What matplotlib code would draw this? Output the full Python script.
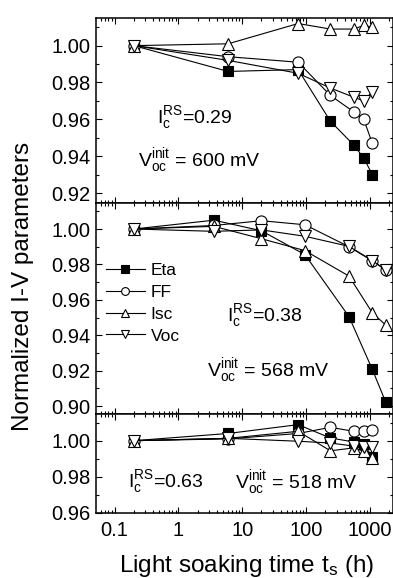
import matplotlib
matplotlib.use('Agg')
import matplotlib.pyplot as plt
from matplotlib.ticker import MultipleLocator, LogLocator, NullFormatter, FixedLocator, FixedFormatter

plt.rcParams['font.family'] = ['Liberation Sans', 'DejaVu Sans']
plt.rcParams['mathtext.fontset'] = 'custom'
plt.rcParams['mathtext.rm'] = 'Liberation Sans'
plt.rcParams['mathtext.it'] = 'Liberation Sans'

# light soaking times (h)
t_a = [0.2, 6, 75, 240, 560, 800, 1090]        # top and bottom panels
t_b = [0.2, 3.6, 20, 96, 470, 1090, 1760]      # middle panel

# top panel, Voc init = 600 mV
eta1 = [1.000, 0.986, 0.987, 0.959, 0.946, 0.939, 0.930]
ff1 = [1.000, 0.994, 0.991, 0.973, 0.964, 0.960, 0.947]
isc1 = [1.000, 1.001, 1.012, 1.009, 1.009, 1.011, 1.010]
voc1 = [1.000, 0.992, 0.985, 0.977, 0.972, 0.970, 0.975]

# middle panel, Voc init = 568 mV
eta2 = [1.000, 1.005, 0.999, 0.9855, 0.9505, 0.9207, 0.9024]
ff2 = [1.000, 1.002, 1.0047, 1.0024, 0.990, 0.982, 0.977]
isc2 = [1.000, 1.0015, 0.9945, 0.9878, 0.9734, 0.9527, 0.9458]
voc2 = [1.000, 0.9987, 0.9995, 0.9959, 0.9902, 0.9822, 0.9768]

# bottom panel, Voc init = 518 mV
eta3 = [1.000, 1.004, 1.0089, 1.0015, 0.9993, 0.9982, 0.991]
ff3 = [1.000, 1.001, 1.004, 1.0074, 1.0052, 1.0056, 1.0059]
isc3 = [1.000, 1.0013, 1.0052, 0.9944, 0.996, 0.9941, 0.9904]
voc3 = [1.000, 1.0013, 0.9997, 0.9987, 0.997, 0.9965, 0.9963]

labels = ['Eta', 'FF', 'Isc', 'Voc']
markers = ['s', 'o', '^', 'v']
fills = ['black', 'white', 'white', 'white']

W, H = 393, 578
fig = plt.figure(figsize=(W / 100, H / 100), dpi=100)

left = 96 / W
width = 1.0 - left

def make_ax(top_px, bot_px):
    return fig.add_axes([left, 1 - bot_px / H, width, (bot_px - top_px) / H])

ax1 = make_ax(18, 203)
ax2 = make_ax(203, 414)
ax3 = make_ax(414, 513)

panels = [
    (ax1, t_a, [eta1, ff1, isc1, voc1], (0.9146, 1.015)),
    (ax2, t_b, [eta2, ff2, isc2, voc2], (0.8955, 1.0147)),
    (ax3, t_a, [eta3, ff3, isc3, voc3], (0.9599, 1.0148)),
]

for ax, t, series, ylim in panels:
    for vals, lab, m, fc in zip(series, labels, markers, fills):
        ax.plot(t, vals, color='black', lw=0.8, marker=m, ms=8 if m != 's' else 7.5,
                mfc=fc, mec='black', mew=0.8, label=lab)
    ax.set_xscale('log')
    ax.set_xlim(0.051, 2300)
    ax.set_ylim(*ylim)
    ax.yaxis.set_major_locator(MultipleLocator(0.02))
    ax.yaxis.set_minor_locator(MultipleLocator(0.01))
    ax.yaxis.set_major_formatter(matplotlib.ticker.FormatStrFormatter('%.2f'))
    ax.xaxis.set_minor_locator(LogLocator(base=10, subs=range(2, 10), numticks=20))
    ax.xaxis.set_minor_formatter(NullFormatter())
    ax.tick_params(which='both', direction='in', top=True, right=True, width=0.8)
    ax.tick_params(which='major', length=4.5, labelsize=14.5, pad=4)
    ax.tick_params(which='minor', length=2.5)
    for sp in ax.spines.values():
        sp.set_linewidth(1.1)

for ax in (ax1, ax2, ax3):
    ax.xaxis.set_major_locator(FixedLocator([0.01, 0.1, 1, 10, 100, 1000, 10000]))
for ax in (ax1, ax2):
    ax.tick_params(labelbottom=False)

ax3.xaxis.set_major_formatter(FixedFormatter(['0.01', '0.1', '1', '10', '100', '1000', '10000']))
ax3.tick_params(axis='x', pad=6)

fs_ann = 14
ax1.text(0.205, 0.434, r'I$_\mathregular{c}^\mathregular{RS}$=0.29', transform=ax1.transAxes,
         fontsize=fs_ann, va='baseline')
ax1.text(0.141, 0.20, r'V$_\mathregular{oc}^\mathregular{init}$ = 600 mV', transform=ax1.transAxes,
         fontsize=fs_ann, va='baseline')
ax2.text(0.441, 0.441, r'I$_\mathregular{c}^\mathregular{RS}$=0.38', transform=ax2.transAxes,
         fontsize=fs_ann, va='baseline')
ax2.text(0.374, 0.18, r'V$_\mathregular{oc}^\mathregular{init}$ = 568 mV', transform=ax2.transAxes,
         fontsize=fs_ann, va='baseline')
ax3.text(0.108, 0.26, r'I$_\mathregular{c}^\mathregular{RS}$=0.63', transform=ax3.transAxes,
         fontsize=fs_ann, va='baseline')
ax3.text(0.468, 0.253, r'V$_\mathregular{oc}^\mathregular{init}$ = 518 mV', transform=ax3.transAxes,
         fontsize=fs_ann, va='baseline')

ax2.legend(loc='upper left', bbox_to_anchor=(0.035, 0.715), frameon=False, fontsize=12.5,
           handlelength=2.2, handletextpad=0.35, labelspacing=0.38, borderpad=0,
           borderaxespad=0, markerscale=0.7, numpoints=1)

fig.text(0.058, 1 - 286 / H, 'Normalized I-V parameters', rotation=90,
         ha='center', va='center', fontsize=17.5)
fig.text(247 / W, 1 - 572 / H, r'Light soaking time t$_\mathregular{s}$ (h)',
         ha='center', va='baseline', fontsize=17.5)

fig.savefig('out.png', dpi=100)
